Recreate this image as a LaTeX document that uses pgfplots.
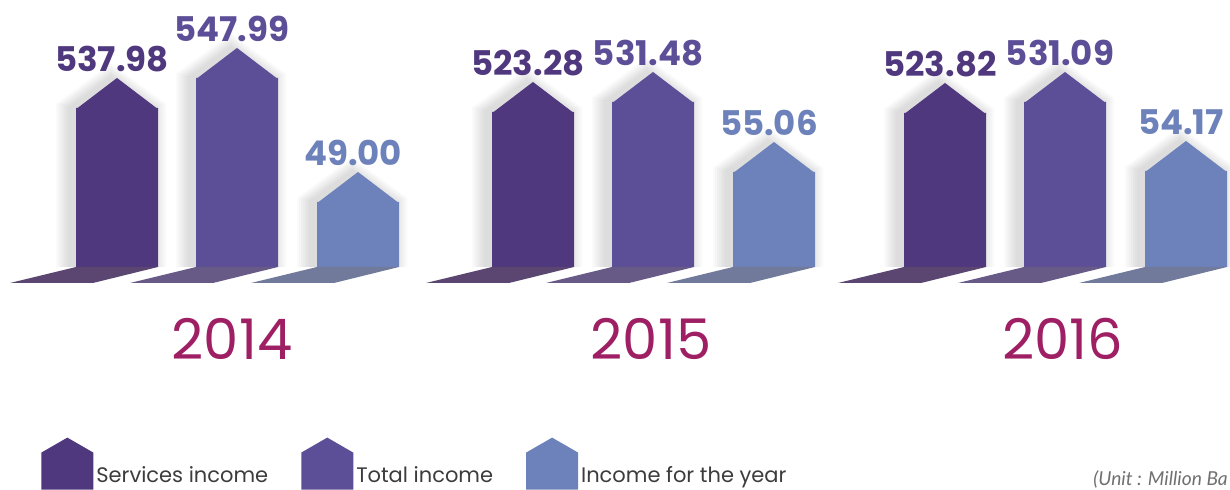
\documentclass[border=0pt]{standalone}
\usepackage{pgfplots}
\pgfplotsset{compat=1.18}
\usepackage{pgfplotstable}
\usepackage{fontspec}
\setmainfont{Poppins}
\newfontfamily\unitfont{Lato}
\definecolor{c1}{HTML}{4F387D}
\definecolor{c2}{HTML}{5D4F97}
\definecolor{c3}{HTML}{6D82BA}
\definecolor{s1}{HTML}{5A4670}
\definecolor{s2}{HTML}{675A86}
\definecolor{s3}{HTML}{717A9A}
\definecolor{yearc}{HTML}{9E1F63}
\definecolor{legtext}{HTML}{3C3C3C}
\definecolor{unitc}{HTML}{707070}

% roof of a bar: half width = mark size (20.5pt = 41 px; 1 px = 0.5pt)
\pgfdeclareplotmark{roof}{%
  \pgfpathmoveto{\pgfpoint{-\pgfplotmarksize}{-0.6pt}}%
  \pgfpathlineto{\pgfpoint{\pgfplotmarksize}{-0.6pt}}%
  \pgfpathlineto{\pgfpoint{0pt}{0.732\pgfplotmarksize}}%
  \pgfpathclose\pgfusepathqfill}
% roof used for the soft halo (no overlap with the body)
\pgfdeclareplotmark{haloroof}{%
  \pgfpathmoveto{\pgfpoint{-\pgfplotmarksize}{0pt}}%
  \pgfpathlineto{\pgfpoint{\pgfplotmarksize}{0pt}}%
  \pgfpathlineto{\pgfpoint{0pt}{0.732\pgfplotmarksize}}%
  \pgfpathclose\pgfusepathqfill}
% floor shadow of a bar
\pgfdeclareplotmark{floor}{%
  \pgfpathmoveto{\pgfpoint{-20.5pt}{0pt}}%
  \pgfpathlineto{\pgfpoint{20.5pt}{0pt}}%
  \pgfpathlineto{\pgfpoint{-12pt}{-8pt}}%
  \pgfpathlineto{\pgfpoint{-53.5pt}{-8pt}}%
  \pgfpathclose\pgfusepathqfill}

% xc: centre of group (px); sh/th/ih: drawn body heights (px); sv/tv/iv: values (Million Baht)
\pgfplotstableread{
year xc   sh  sv     th  tv     ih  iv
2014 237  159 537.98 189 547.99 65  49.00
2015 653  155 523.28 165 531.48 95  55.06
2016 1065 154 523.82 165 531.09 96  54.17
}\data

\pgfplotsset{
  valuelabel/.style={point meta=explicit symbolic, nodes near coords,
    nodes near coords style={anchor=base, yshift=18pt, xshift=-2.5pt, text=#1,
      inner sep=0pt, font=\bfseries\fontsize{17}{17}\selectfont}},
  halo/.style={fill=black, fill opacity=0.02, draw=none, forget plot},
}

\begin{document}
\begin{tikzpicture}
\begin{axis}[
  x=0.5pt, y=0.5pt,
  xmin=0, xmax=1230, ymin=-223, ymax=267,
  axis x line=middle, axis y line=none,
  x axis line style={draw=none},
  major tick length=0pt,
  xtick={232,651,1063},
  xticklabels={2014,2015,2016},
  xticklabel style={anchor=base, yshift=-46.5pt, text=yearc,
    font=\fontsize{28}{28}\selectfont},
  clip=false,
  legend columns=3,
  legend style={at={(rel axis cs:0.0333,0)}, anchor=south west,
    draw=none, fill=none, inner sep=0pt,
    font=\fontsize{10.5}{12}\selectfont, text=legtext,
    cells={anchor=base west},
    nodes={inner xsep=1.5pt, inner ysep=0pt},
    /tikz/every odd column/.style={column sep=0pt},
    /tikz/every even column/.style={column sep=15pt}},
  legend image code/.code={%
    \fill[#1] (0pt,-3.5pt) -- (26pt,-3.5pt) -- (26pt,15pt) -- (13pt,22.5pt) -- (0pt,15pt) -- cycle;},
]
% legend entries
\addlegendimage{fill=c1, draw=none}
\addlegendentry{Services income}
\addlegendimage{fill=c2, draw=none}
\addlegendentry{Total income}
\addlegendimage{fill=c3, draw=none}
\addlegendentry{Income for the year}

% soft halos behind the bars (many faint layers)
\pgfplotsinvokeforeach{1,2,3,4,5,6,7}{
  \addplot[ybar, bar width=41pt+2*#1pt, bar shift=0pt, halo]
    table[x expr=\thisrow{xc}-126, y expr=\thisrow{sh}+0.6*#1] {\data};
  \addplot[only marks, mark=haloroof, mark size=20.5pt+#1pt, halo]
    table[x expr=\thisrow{xc}-126, y expr=\thisrow{sh}+0.6*#1] {\data};
  \addplot[ybar, bar width=41pt+2*#1pt, bar shift=0pt, halo]
    table[x expr=\thisrow{xc}-6, y expr=\thisrow{th}+0.6*#1] {\data};
  \addplot[only marks, mark=haloroof, mark size=20.5pt+#1pt, halo]
    table[x expr=\thisrow{xc}-6, y expr=\thisrow{th}+0.6*#1] {\data};
  \addplot[ybar, bar width=41pt+2*#1pt, bar shift=0pt, halo]
    table[x expr=\thisrow{xc}+115, y expr=\thisrow{ih}+0.6*#1] {\data};
  \addplot[only marks, mark=haloroof, mark size=20.5pt+#1pt, halo]
    table[x expr=\thisrow{xc}+115, y expr=\thisrow{ih}+0.6*#1] {\data};
}

% floor shadows
\addplot[only marks, mark=floor, fill=s1, draw=none, forget plot]
  table[x expr=\thisrow{xc}-120, y expr=0] {\data};
\addplot[only marks, mark=floor, fill=s2, draw=none, forget plot]
  table[x=xc, y expr=0] {\data};
\addplot[only marks, mark=floor, fill=s3, draw=none, forget plot]
  table[x expr=\thisrow{xc}+121, y expr=0] {\data};

% bar bodies
\addplot[ybar, bar width=41pt, bar shift=0pt, fill=c1, draw=none, forget plot]
  table[x expr=\thisrow{xc}-120, y=sh] {\data};
\addplot[ybar, bar width=41pt, bar shift=0pt, fill=c2, draw=none, forget plot]
  table[x=xc, y=th] {\data};
\addplot[ybar, bar width=41pt, bar shift=0pt, fill=c3, draw=none, forget plot]
  table[x expr=\thisrow{xc}+121, y=ih] {\data};

% roofs with value labels
\addplot[only marks, mark=roof, mark size=20.5pt, fill=c1, draw=none, forget plot, valuelabel=c1]
  table[x expr=\thisrow{xc}-120, y=sh, meta=sv] {\data};
\addplot[only marks, mark=roof, mark size=20.5pt, fill=c2, draw=none, forget plot, valuelabel=c2]
  table[x=xc, y=th, meta=tv] {\data};
\addplot[only marks, mark=roof, mark size=20.5pt, fill=c3, draw=none, forget plot, valuelabel=c3]
  table[x expr=\thisrow{xc}+121, y=ih, meta=iv] {\data};

\node[anchor=base west, inner sep=0pt, text=unitc,
  font=\unitfont\itshape\fontsize{9.6}{10}\selectfont]
  at (axis cs:1093,-219) {(Unit : Million Ba};

\coordinate (ll) at (axis cs:0,-223);
\coordinate (ur) at (axis cs:1230,267);
\end{axis}
\pgfresetboundingbox
\path[use as bounding box] (ll) rectangle (ur);
\end{tikzpicture}
\end{document}
